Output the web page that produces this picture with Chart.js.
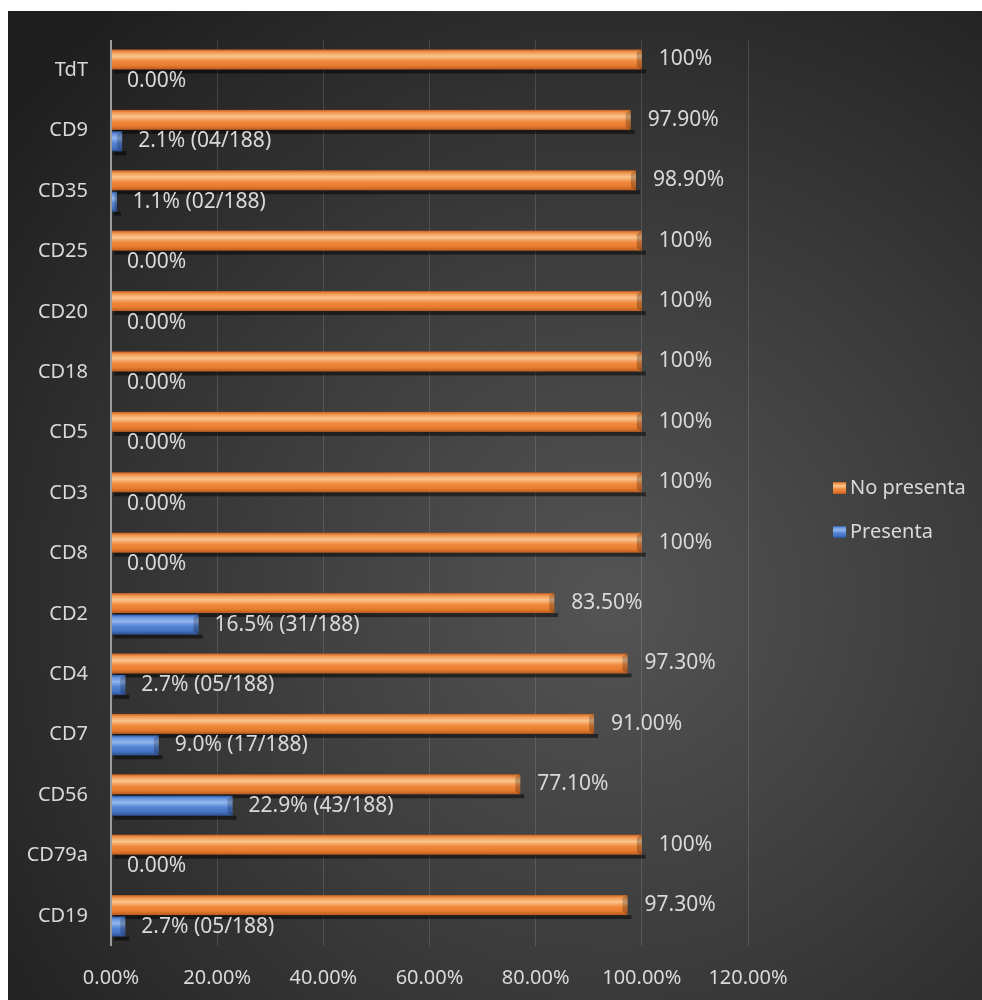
<!DOCTYPE html>
<html>
<head>
<meta charset="utf-8">
<script src="https://cdn.jsdelivr.net/npm/chart.js@4.4.1/dist/chart.umd.min.js"></script>
<style>
  html, body { margin: 0; padding: 0; background: #fff; }
  #wrap { width: 982px; height: 1000px; position: relative; }
</style>
</head>
<body>
<div id="wrap"><canvas id="chart"></canvas></div>
<script>
const markers = ["TdT", "CD9", "CD35", "CD25", "CD20", "CD18", "CD5", "CD3", "CD8", "CD2", "CD4", "CD7", "CD56", "CD79a", "CD19"];
const noPresenta = [100, 97.9, 98.9, 100, 100, 100, 100, 100, 100, 83.5, 97.3, 91.0, 77.1, 100, 97.3];
const presenta = [0, 2.1, 1.1, 0, 0, 0, 0, 0, 0, 16.5, 2.7, 9.0, 22.9, 0, 2.7];
const presentaCases = [0, 4, 2, 0, 0, 0, 0, 0, 0, 31, 5, 17, 43, 0, 5];
const totalCases = 188;
const xTicks = [0, 20, 40, 60, 80, 100, 120];

const FONT = '"Noto Sans", "Open Sans", sans-serif';
const textColor = "#d9d9d9";

const bevel = {
  orange: ["#c9601f", "#f29a52", "#fbc58f", "#f08a3e", "#e67a2e", "#b85a1f"],
  blue: ["#2f5ba8", "#6a96de", "#93b6ef", "#5485d4", "#4572c2", "#2c4f91"],
};

function noLabel(v) {
  return v === 100 ? "100%" : `${v.toFixed(2)}%`;
}

function siLabel(v, i) {
  if (v === 0) return "0.00%";
  return `${v.toFixed(1)}% (${String(presentaCases[i]).padStart(2, "0")}/${totalCases})`;
}

function barGradient(ctx, top, bottom, stops) {
  const g = ctx.createLinearGradient(0, top, 0, bottom);
  const pos = [0, 0.14, 0.34, 0.58, 0.82, 1];
  stops.forEach((c, k) => g.addColorStop(pos[k], c));
  return g;
}

// dark radial panel behind the plot
const panel = {
  id: "panel",
  beforeDraw(chart) {
    const { ctx, width, height } = chart;
    ctx.save();
    ctx.fillStyle = "#ffffff";
    ctx.fillRect(0, 0, width, height);
    const g = ctx.createRadialGradient(610, 600, 0, 610, 600, 780);
    g.addColorStop(0, "#545454");
    g.addColorStop(0.5, "#3a3a3a");
    g.addColorStop(1, "#1e1e1e");
    ctx.fillStyle = g;
    ctx.fillRect(8, 11, width - 8, height - 11);
    ctx.restore();
  },
};

// shaded bars with drop shadow, then the value labels
const bars = {
  id: "bars",
  afterDatasetsDraw(chart) {
    const { ctx } = chart;
    const metas = [chart.getDatasetMeta(0), chart.getDatasetMeta(1)];
    ctx.save();
    metas.forEach((meta) => {
      meta.data.forEach((el) => {
        const { x, y, base, height } = el.getProps(["x", "y", "base", "height"], true);
        const bottom = y + height / 2;
        if (x - base < 0.5) return;
        ctx.fillStyle = "rgba(0,0,0,0.5)";
        ctx.fillRect(base + 2, bottom, x - base + 2, 4);
      });
    });
    metas.forEach((meta, d) => {
      const stops = d === 0 ? bevel.orange : bevel.blue;
      meta.data.forEach((el) => {
        const { x, y, base, height } = el.getProps(["x", "y", "base", "height"], true);
        const top = y - height / 2;
        const w = x - base;
        if (w < 0.5) return;
        ctx.fillStyle = barGradient(ctx, top, top + height, stops);
        ctx.fillRect(base, top, w, height);
        // bevelled right end
        const e = Math.min(5, w / 2);
        ctx.fillStyle = "rgba(0,0,0,0.22)";
        ctx.beginPath();
        ctx.moveTo(x - e, top + 3);
        ctx.lineTo(x, top);
        ctx.lineTo(x, top + height);
        ctx.lineTo(x - e, top + height - 3);
        ctx.closePath();
        ctx.fill();
      });
    });

    ctx.font = `21px ${FONT}`;
    ctx.fillStyle = textColor;
    ctx.textBaseline = "middle";
    ctx.textAlign = "left";
    metas[0].data.forEach((el, i) => {
      const { x, y } = el.getProps(["x", "y"], true);
      ctx.fillText(noLabel(noPresenta[i]), x + 17, y);
    });
    metas[1].data.forEach((el, i) => {
      const { x, y } = el.getProps(["x", "y"], true);
      ctx.fillText(siLabel(presenta[i], i), x + 16, y);
    });
    ctx.restore();
  },
};

// legend to the right of the plot
const sideLegend = {
  id: "sideLegend",
  afterDraw(chart) {
    const { ctx } = chart;
    const rows = [
      { label: chart.data.datasets[0].label, stops: bevel.orange, y: 488 },
      { label: chart.data.datasets[1].label, stops: bevel.blue, y: 532 },
    ];
    ctx.save();
    ctx.font = `20px ${FONT}`;
    ctx.textBaseline = "middle";
    ctx.textAlign = "left";
    rows.forEach((r) => {
      ctx.fillStyle = barGradient(ctx, r.y - 6, r.y + 6, r.stops);
      ctx.fillRect(833, r.y - 6, 13, 12);
      ctx.fillStyle = textColor;
      ctx.fillText(r.label, 850, r.y);
    });
    ctx.restore();
  },
};

new Chart(document.getElementById("chart"), {
  type: "bar",
  data: {
    labels: markers,
    datasets: [
      { label: "No presenta", data: noPresenta, backgroundColor: "rgba(0,0,0,0)" },
      { label: "Presenta", data: presenta, backgroundColor: "rgba(0,0,0,0)" },
    ],
  },
  options: {
    indexAxis: "y",
    responsive: true,
    maintainAspectRatio: false,
    animation: false,
    categoryPercentage: 0.71,
    barPercentage: 0.93,
    layout: { padding: { left: 0, right: 234, top: 40, bottom: 0 } },
    plugins: { legend: { display: false }, tooltip: { enabled: false } },
    scales: {
      x: {
        min: 0,
        max: 120,
        afterBuildTicks: (scale) => {
          scale.ticks = xTicks.map((v) => ({ value: v }));
        },
        afterFit: (scale) => {
          scale.height = 54;
        },
        border: { display: false },
        grid: {
          drawTicks: false,
          color: (c) => (c.tick && c.tick.value === 0 ? "#9c9c9c" : "rgba(255,255,255,0.13)"),
          lineWidth: (c) => (c.tick && c.tick.value === 0 ? 2 : 1),
        },
        ticks: {
          padding: 20,
          color: textColor,
          font: { family: FONT, size: 20 },
          callback: (v) => `${Number(v).toFixed(2)}%`,
        },
      },
      y: {
        afterFit: (scale) => {
          scale.width = 111;
        },
        border: { display: false },
        grid: { display: false, drawTicks: false },
        ticks: {
          padding: 23,
          color: textColor,
          font: { family: FONT, size: 20 },
        },
      },
    },
  },
  plugins: [panel, bars, sideLegend],
});
</script>
</body>
</html>
